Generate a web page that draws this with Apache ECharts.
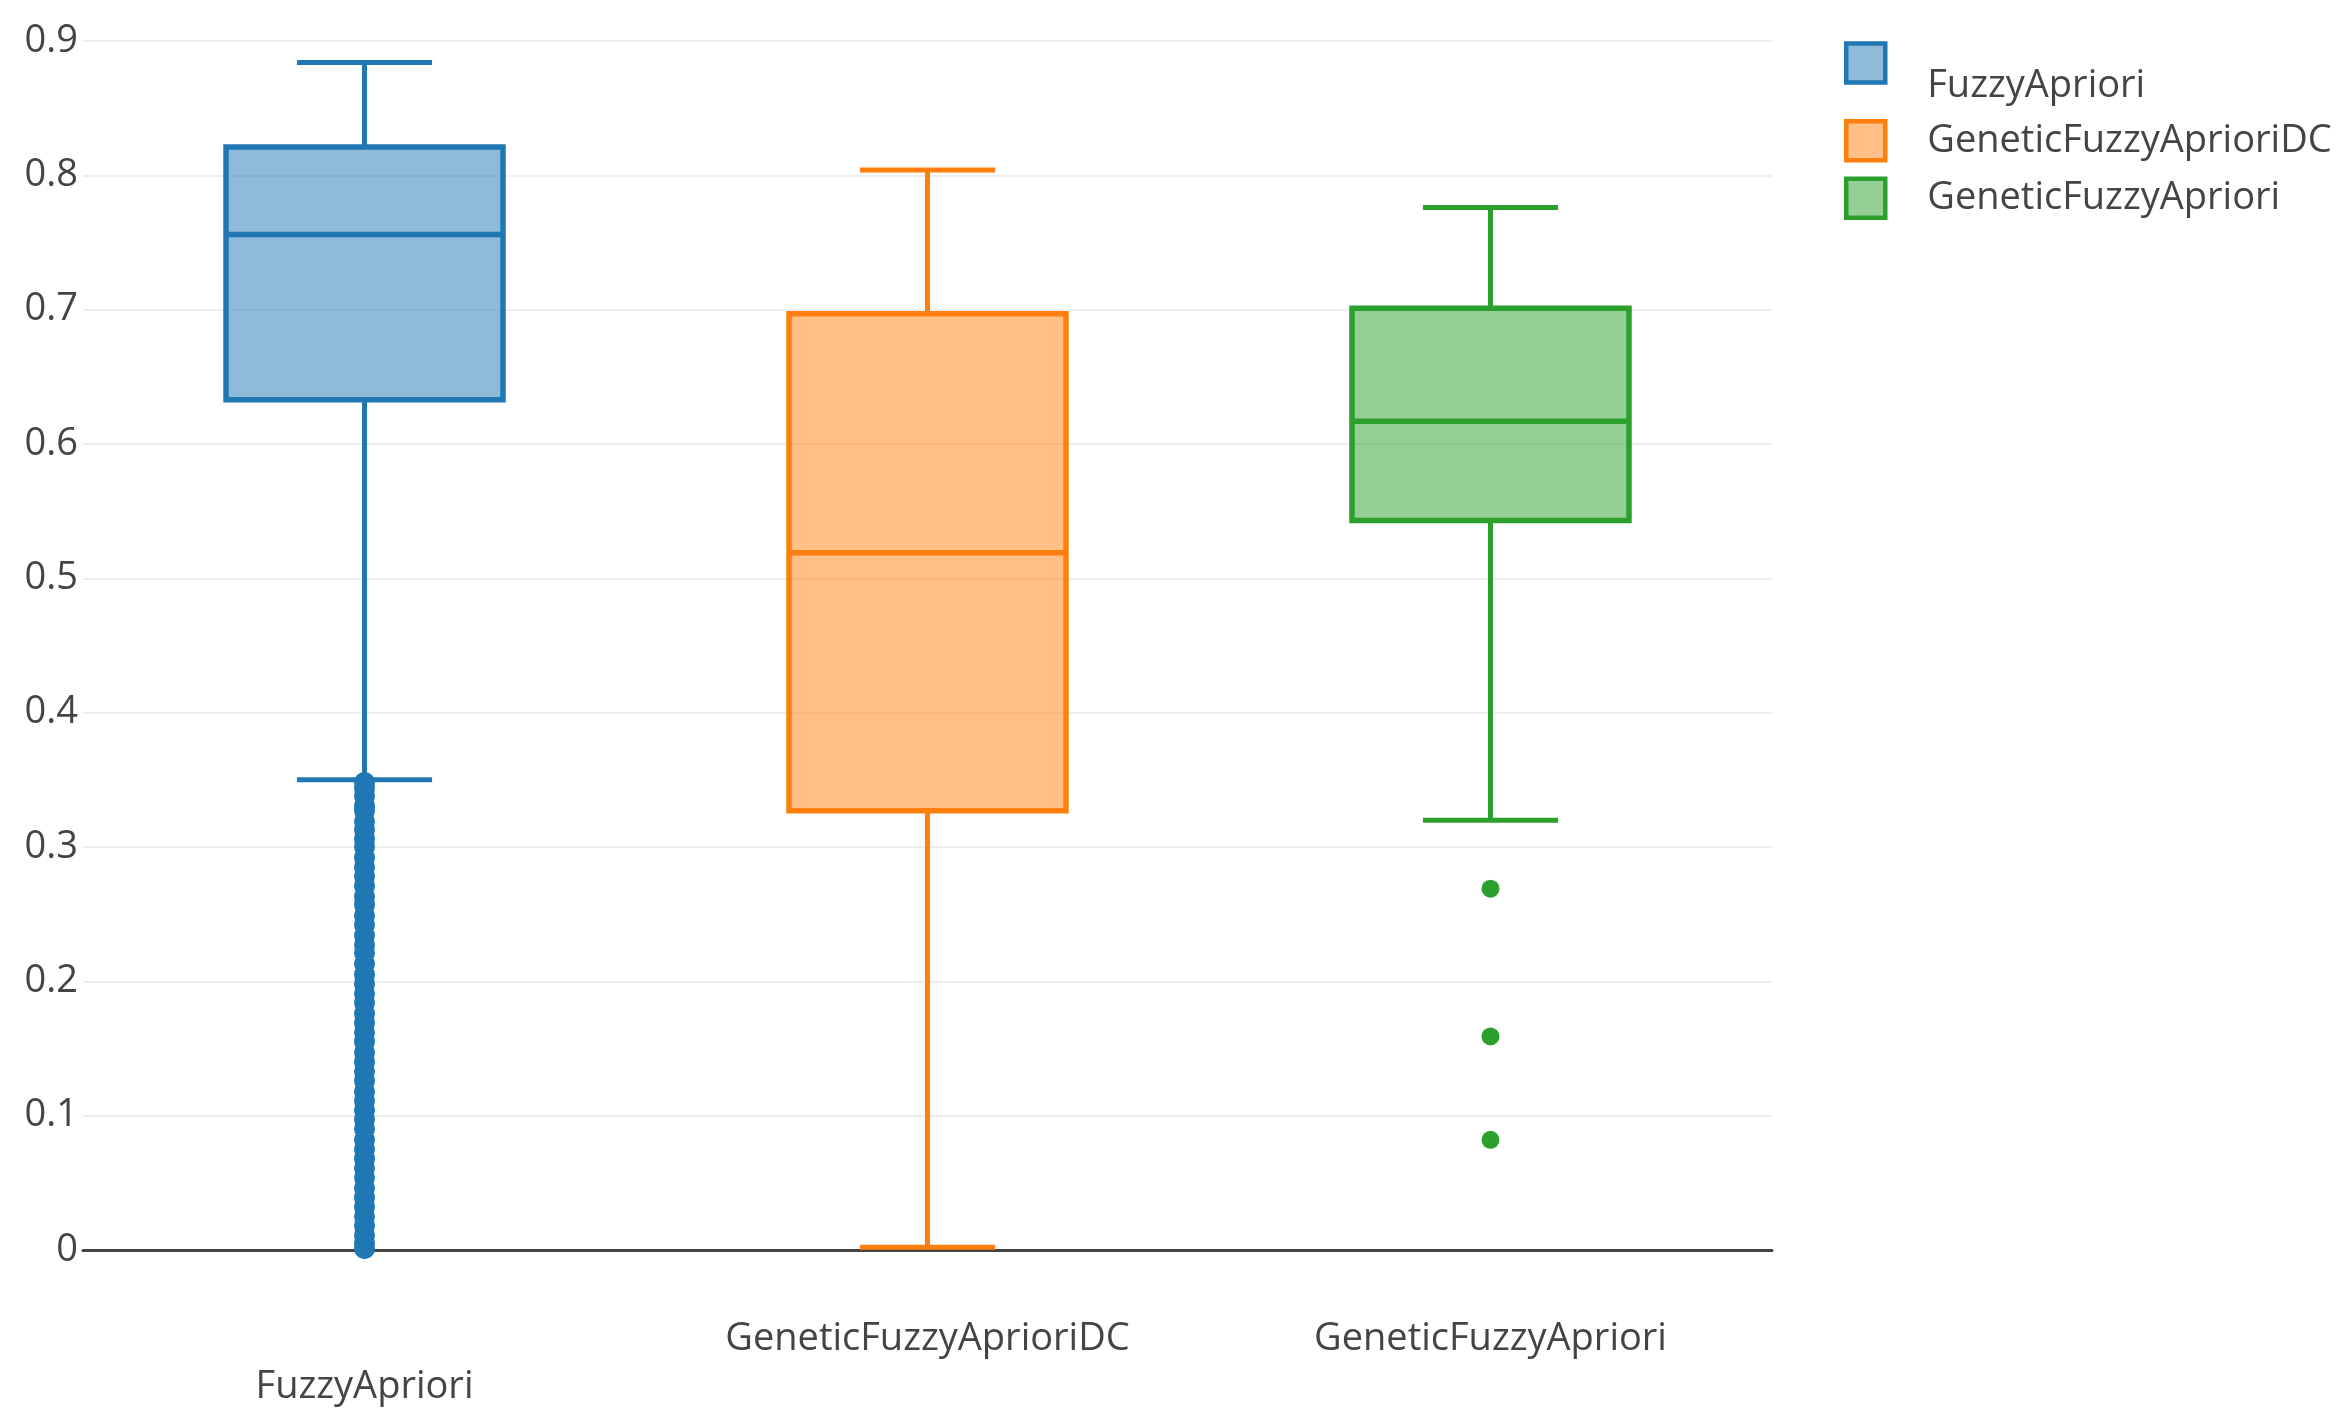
<!DOCTYPE html>
<html>
<head>
<meta charset="utf-8">
<script src="https://cdn.jsdelivr.net/npm/echarts@6/dist/echarts.min.js"></script>
<style>html,body{margin:0;padding:0;background:#fff;}#c{width:2339px;height:1425px;}</style>
</head>
<body>
<div id="c"></div>
<script>
const categories = ['FuzzyApriori', 'GeneticFuzzyAprioriDC', 'GeneticFuzzyApriori'];
const lineColors = ['#1f77b4', '#ff7f0e', '#2ca02c'];
const fillColors = ['rgba(31,119,180,0.5)', 'rgba(255,127,14,0.5)', 'rgba(44,160,44,0.5)'];
// [lower whisker, Q1, median, Q3, upper whisker]
const fuzzyAprioriStats = [0.350, 0.633, 0.756, 0.821, 0.884];
const geneticDCStats = [0.002, 0.327, 0.519, 0.697, 0.804];
const geneticStats = [0.320, 0.543, 0.617, 0.701, 0.776];
const fuzzyAprioriOutliers = [0.348, 0.344, 0.338, 0.331, 0.327, 0.319, 0.313, 0.306, 0.300, 0.292,
  0.285, 0.278, 0.271, 0.263, 0.257, 0.249, 0.242, 0.234, 0.227, 0.221, 0.213, 0.205, 0.198, 0.191,
  0.184, 0.176, 0.169, 0.162, 0.155, 0.147, 0.140, 0.133, 0.126, 0.118, 0.111, 0.104, 0.097, 0.090,
  0.082, 0.075, 0.068, 0.061, 0.054, 0.046, 0.039, 0.032, 0.025, 0.018, 0.011, 0.005, 0.001];
const geneticDCOutliers = [];
const geneticOutliers = [0.269, 0.159, 0.082];
const yTickLabels = ['0', '0.1', '0.2', '0.3', '0.4', '0.5', '0.6', '0.7', '0.8', '0.9'];

const statsList = [fuzzyAprioriStats, geneticDCStats, geneticStats];
const outlierList = [fuzzyAprioriOutliers, geneticDCOutliers, geneticOutliers];
const FONT = "'Open Sans', sans-serif";
const FS = 38;

function renderBox(params, api) {
  const i = params.seriesIndex;
  const idx = api.value(0);
  const lo = api.coord([idx, api.value(1)]);
  const q1 = api.coord([idx, api.value(2)]);
  const med = api.coord([idx, api.value(3)]);
  const q3 = api.coord([idx, api.value(4)]);
  const hi = api.coord([idx, api.value(5)]);
  const band = api.size([1, 0])[0];
  const hw = band * 0.246;
  const cw = band * 0.12;
  const x = med[0];
  const stroke = lineColors[i];
  const ls = {stroke: stroke, lineWidth: 5, fill: null};
  return {
    type: 'group',
    children: [
      {type: 'line', shape: {x1: x, y1: hi[1], x2: x, y2: q3[1]}, style: ls},
      {type: 'line', shape: {x1: x, y1: q1[1], x2: x, y2: lo[1]}, style: ls},
      {type: 'line', shape: {x1: x - cw, y1: hi[1], x2: x + cw, y2: hi[1]}, style: ls},
      {type: 'line', shape: {x1: x - cw, y1: lo[1], x2: x + cw, y2: lo[1]}, style: ls},
      {type: 'rect', shape: {x: x - hw, y: q3[1], width: 2 * hw, height: q1[1] - q3[1]},
        style: {fill: fillColors[i], stroke: stroke, lineWidth: 5.5}},
      {type: 'line', shape: {x1: x - hw, y1: med[1], x2: x + hw, y2: med[1]}, style: {stroke: stroke, lineWidth: 5.5}}
    ]
  };
}

const series = [];
categories.forEach((name, i) => {
  series.push({
    name: name,
    type: 'custom',
    renderItem: renderBox,
    encode: {x: 0, y: [1, 2, 3, 4, 5]},
    itemStyle: {color: fillColors[i], borderColor: lineColors[i]},
    data: [[i].concat(statsList[i])],
    z: 2
  });
});
categories.forEach((name, i) => {
  series.push({
    name: name,
    type: 'scatter',
    symbol: 'circle',
    symbolSize: i === 0 ? 21 : 18,
    itemStyle: {color: lineColors[i], opacity: 1},
    data: outlierList[i].map(v => [name, v]),
    z: 3
  });
});

function legendItem(i) {
  return {name: categories[i], itemStyle: {color: fillColors[i], borderColor: lineColors[i], borderWidth: 4.5}};
}

const option = {
  animation: false,
  backgroundColor: '#fff',
  grid: {left: 83, right: 567, top: 41, bottom: 175, containLabel: false},
  xAxis: {
    type: 'category',
    data: categories,
    boundaryGap: true,
    axisTick: {show: false},
    axisLine: {lineStyle: {color: '#444', width: 3}},
    splitLine: {show: false},
    axisLabel: {
      margin: 69,
      interval: 0,
      formatter: (v, idx) => idx === 0 ? '{low|' + v + '}' : '{n|' + v + '}',
      rich: {
        low: {padding: [96, 0, 0, 0], fontSize: FS, lineHeight: 40, color: '#444', fontFamily: FONT},
        n: {fontSize: FS, lineHeight: 40, color: '#444', fontFamily: FONT}
      }
    }
  },
  yAxis: {
    type: 'value',
    min: 0, max: 0.9, interval: 0.1,
    axisLine: {show: false},
    axisTick: {show: false},
    splitLine: {lineStyle: {color: '#eeeeee', width: 2}},
    axisLabel: {
      margin: 5,
      fontSize: FS,
      color: '#444',
      fontFamily: FONT,
      formatter: v => yTickLabels[Math.round(v * 10)]
    }
  },
  legend: [
    {
      orient: 'vertical', left: 1839, top: 16, itemWidth: 39, itemHeight: 39, icon: 'rect',
      data: [legendItem(0)],
      formatter: n => '{a|' + n + '}',
      textStyle: {rich: {a: {padding: [46, 0, 0, 37], fontSize: FS, lineHeight: 40, color: '#444', fontFamily: FONT}}}
    },
    {
      orient: 'vertical', left: 1839, top: 114, itemGap: 14, itemWidth: 39, itemHeight: 39, icon: 'rect',
      data: [legendItem(1), legendItem(2)],
      formatter: n => '{a|' + n + '}',
      textStyle: {rich: {a: {padding: [0, 0, 0, 37], fontSize: FS, lineHeight: 40, color: '#444', fontFamily: FONT}}}
    }
  ],
  series: series
};

const chart = echarts.init(document.getElementById('c'));
chart.setOption(option);
</script>
</body>
</html>
